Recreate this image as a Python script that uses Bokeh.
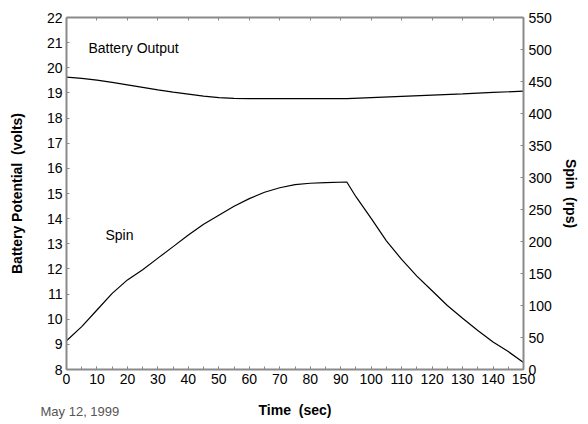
from bokeh.plotting import figure
from bokeh.models import Range1d, LinearAxis, Label, SingleIntervalTicker, FixedTicker
from bokeh.embed import file_html
from bokeh.resources import INLINE

# Data
time_batt = [0, 5, 10, 15, 20, 25, 30, 35, 40, 45, 50, 55, 60, 70, 80, 92, 100, 110, 120, 130, 140, 150]
battery_volts = [19.63, 19.58, 19.51, 19.42, 19.32, 19.22, 19.12, 19.03, 18.95, 18.87, 18.81, 18.78, 18.77,
                 18.77, 18.77, 18.77, 18.81, 18.86, 18.91, 18.96, 19.02, 19.07]

time_spin = [0, 5, 10, 15, 20, 25, 30, 35, 40, 45, 50, 55, 60, 65, 70, 75, 80, 85, 92,
             95, 100, 105, 110, 115, 120, 125, 130, 135, 140, 145, 150]
spin_rps = [45, 67, 93, 119, 140, 156, 174, 192, 210, 227, 241, 255, 267, 277, 284, 289, 291, 292, 293,
            270, 236, 201, 172, 146, 123, 100, 80, 61, 43, 28, 11]

left_ticks = list(range(8, 23))
right_ticks = list(range(0, 551, 50))
date_text = "May 12, 1999"

FONT = "Liberation Sans"
AXIS_GRAY = "#8a8a8a"

p = figure(width=588, height=424, output_backend="svg", toolbar_location=None,
           x_range=Range1d(0, 150), y_range=Range1d(8, 22),
           min_border_left=66, min_border_right=65, min_border_top=17, min_border_bottom=55)
p.extra_y_ranges = {"spin": Range1d(0, 550)}
p.xgrid.visible = False
p.ygrid.visible = False
p.outline_line_color = None
p.background_fill_color = "white"
p.border_fill_color = "white"

def style_axis(ax):
    ax.axis_line_color = AXIS_GRAY
    ax.axis_line_width = 2
    ax.major_tick_line_color = AXIS_GRAY
    ax.minor_tick_line_color = AXIS_GRAY
    ax.major_tick_in = 3
    ax.major_tick_out = 0
    ax.minor_tick_in = 3
    ax.minor_tick_out = 0
    ax.major_label_text_font = FONT
    ax.major_label_text_font_size = "14px"
    ax.major_label_text_color = "black"
    ax.axis_label_text_font = FONT
    ax.axis_label_text_font_size = "14px"
    ax.axis_label_text_font_style = "bold"
    ax.axis_label_text_color = "black"

NB = "\u00a0"

# bottom axis
xa = p.xaxis[0]
xa.ticker = SingleIntervalTicker(interval=10, num_minor_ticks=2)
style_axis(xa)
xa.major_label_standoff = 4
xa.axis_label = "Time" + NB + " (sec)"
xa.axis_label_standoff = 15

# left axis
ya = p.yaxis[0]
ya.ticker = FixedTicker(ticks=left_ticks)
style_axis(ya)
ya.minor_tick_line_color = None
ya.major_label_standoff = 4
ya.axis_label = "Battery Potential" + NB + " (volts)"
ya.axis_label_standoff = 19

# right axis
ra = LinearAxis(y_range_name="spin", ticker=FixedTicker(ticks=right_ticks))
style_axis(ra)
ra.minor_tick_line_color = None
ra.major_label_standoff = 5
ra.axis_label = "Spin" + NB + " (rps)"
ra.axis_label_standoff = 8
p.add_layout(ra, "right")

# top axis (frame with ticks)
ta = LinearAxis(ticker=SingleIntervalTicker(interval=10, num_minor_ticks=0))
style_axis(ta)
ta.major_label_text_font_size = "0px"
ta.major_label_text_color = None
ta.minor_tick_line_color = None
p.add_layout(ta, "above")

# date note below the plot: label-only second axis stacked under the time axis
date_pos = 4.4
da = LinearAxis(ticker=FixedTicker(ticks=[date_pos]), major_label_overrides={date_pos: date_text})
da.axis_line_color = None
da.major_tick_line_color = None
da.minor_tick_line_color = None
da.major_tick_in = 0
da.major_tick_out = 0
da.major_label_standoff = -17
da.major_label_text_font = FONT
da.major_label_text_font_size = "13px"
da.major_label_text_color = "#555555"
p.add_layout(da, "below")

p.line(time_batt, battery_volts, line_color="black", line_width=1.2)
p.line(time_spin, spin_rps, line_color="black", line_width=1.2, y_range_name="spin")

p.add_layout(Label(x=7.2, y=20.77, text="Battery Output", text_font=FONT, text_font_size="14px",
                   text_baseline="middle", text_color="black"))
p.add_layout(Label(x=12.8, y=13.33, text="Spin", text_font=FONT, text_font_size="14px",
                   text_baseline="middle", text_color="black"))

open("out.html", "w").write(file_html(p, INLINE))
